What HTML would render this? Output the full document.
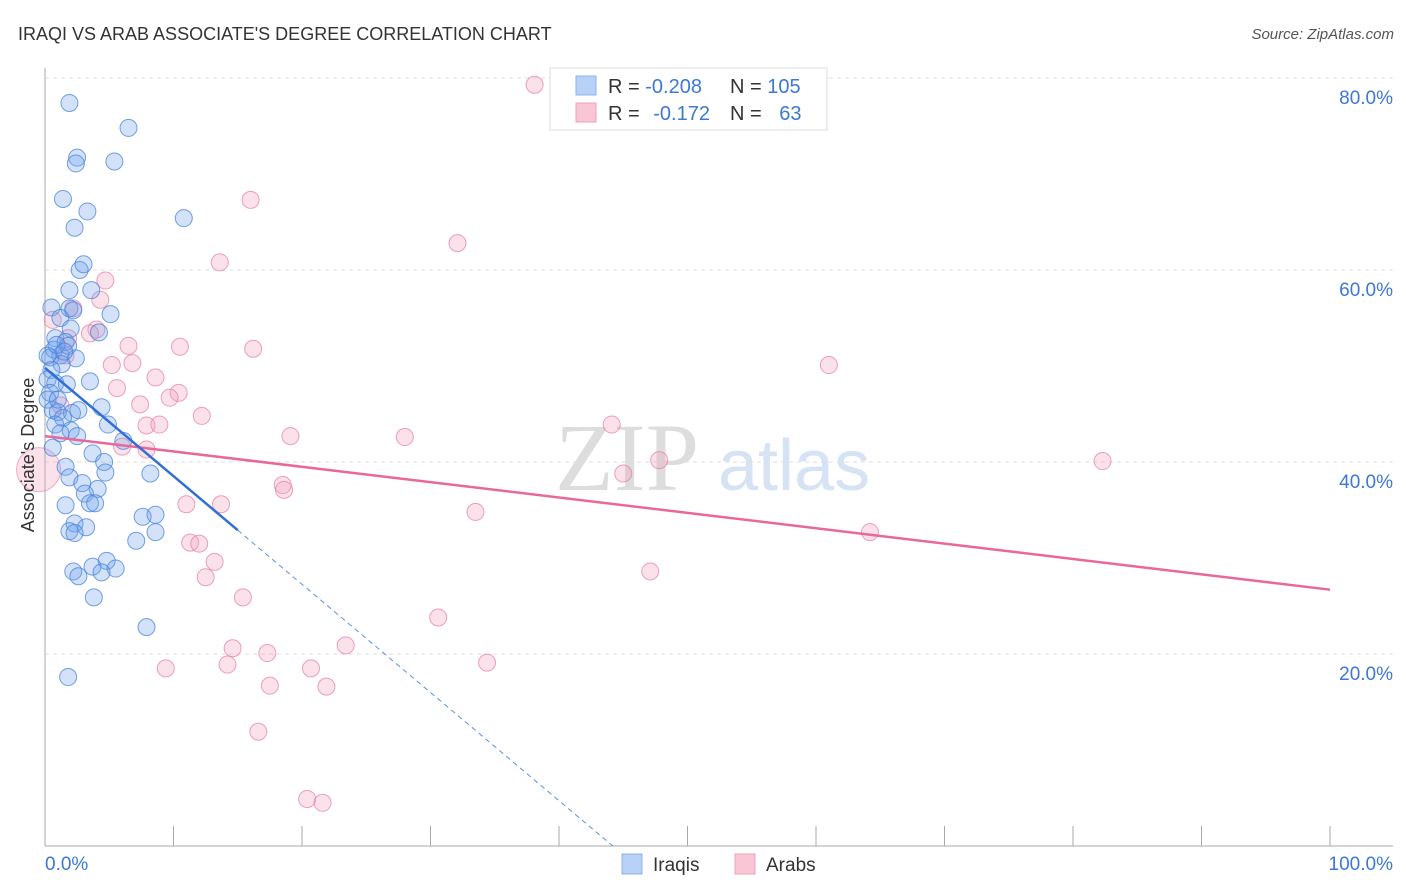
<!DOCTYPE html>
<html><head><meta charset="utf-8"><style>
body{margin:0;background:#fff;font-family:"Liberation Sans",sans-serif}
svg{display:block}
</style></head><body>
<svg id="chart" width="1406" height="892" viewBox="0 0 1406 892" xmlns="http://www.w3.org/2000/svg">
<text x="18" y="40" font-size="18" fill="#333">IRAQI VS ARAB ASSOCIATE'S DEGREE CORRELATION CHART</text>
<text x="1394" y="39" font-size="15" font-style="italic" fill="#555" text-anchor="end">Source: ZipAtlas.com</text>
<g>
<text x="555" y="490" font-family="Liberation Serif,serif" font-size="96" fill="#ddd">ZIP</text>
<text x="718" y="490" font-size="72" fill="#d6e3f5">atlas</text>
</g>
<g id="grid"></g>
<g id="axes"></g>
<g id="marks"></g>
<g id="trends"></g>
<g>
<rect x="550" y="68" width="277" height="62" fill="#fff" stroke="#ddd"/>
<rect x="576" y="76" width="20" height="19" fill="#b7d2f6" stroke="#8fb3e8"/>
<rect x="576" y="103" width="20" height="19" fill="#f9c6d5" stroke="#eda3bb"/>
<text x="608" y="93" font-size="20" fill="#333">R = <tspan fill="#3b78d8">-0.208</tspan></text>
<text x="730" y="93" font-size="20" fill="#333">N = <tspan fill="#3b78d8">105</tspan></text>
<text x="608" y="120" font-size="20" fill="#333">R = <tspan fill="#3b78d8" dx="8">-0.172</tspan></text>
<text x="730" y="120" font-size="20" fill="#333">N = <tspan fill="#3b78d8" dx="12">63</tspan></text>
</g>
<g>
<rect x="622" y="854" width="20" height="20" fill="#b7d2f6" stroke="#8fb3e8"/>
<text x="653" y="871" font-size="19" fill="#333">Iraqis</text>
<rect x="735" y="854" width="20" height="20" fill="#f9c6d5" stroke="#eda3bb"/>
<text x="766" y="871" font-size="19" fill="#333">Arabs</text>
</g>
<text transform="translate(34,455) rotate(-90)" font-size="18" fill="#333" text-anchor="middle">Associate's Degree</text>
</svg>
<script>
const yTicks=[20,40,60,80];
const yTickLabels=["20.0%","40.0%","60.0%","80.0%"];
const xTicks=[10,20,30,40,50,60,70,80,90,100];
const iraqiX=[1.9,6.5,2.5,2.4,5.4,1.4,3.3,2.3,10.8,2.7,3.0,3.6,1.9,0.5,1.9,5.1,1.2,2.2,4.2,2.0,0.8,1.6,0.7,1.2,1.8,0.4,2.4,1.3,0.5,0.2,3.5,0.8,1.7,0.4,0.2,0.6,1.0,2.1,2.6,4.4,1.4,0.8,2.0,4.9,1.2,2.5,6.1,3.7,4.6,1.6,4.7,1.9,8.2,2.9,4.1,3.1,3.5,1.6,3.9,2.3,1.9,3.2,2.3,7.6,8.6,8.6,7.1,4.8,3.7,5.5,2.2,2.6,4.4,3.8,7.9,1.8,0.2,1.0,0.6,0.9,1.5];
const iraqiY=[77.4,74.8,71.7,71.1,71.3,67.4,66.1,64.4,65.4,60.0,60.6,57.9,57.9,56.1,56.0,55.4,55.0,55.8,53.5,53.9,52.9,52.5,51.7,51.1,52.1,50.9,50.8,50.2,49.6,48.6,48.4,48.2,48.1,47.2,46.5,45.4,45.2,45.1,45.4,45.7,44.6,43.9,43.3,43.9,43.0,42.7,42.2,40.9,40.0,39.5,38.9,38.4,38.8,37.8,37.2,36.7,35.7,35.5,35.7,33.6,32.8,33.2,32.6,34.3,34.5,32.7,31.8,29.7,29.1,28.9,28.6,28.1,28.5,25.9,22.8,17.6,51.1,46.5,41.5,52.2,51.5];
const arabX=[38.1,16.0,32.1,13.6,4.7,4.3,2.2,4.0,3.5,1.8,6.5,10.5,16.2,5.2,6.8,8.6,5.6,61.0,10.4,9.7,7.4,12.2,7.9,8.9,19.1,28.0,44.1,6.0,7.9,47.8,82.3,45.0,18.5,18.6,11.0,13.7,33.5,64.2,11.3,12.0,13.2,12.5,47.1,15.4,30.6,14.6,23.4,17.3,34.4,9.4,14.2,20.7,17.5,21.9,16.6,20.4,21.6,1.2,0.6,1.6];
const arabY=[79.3,67.3,62.8,60.8,58.9,56.9,56.0,53.8,53.4,52.9,52.1,52.0,51.8,50.1,50.3,48.8,47.7,50.1,47.2,46.7,46.0,44.8,43.8,43.9,42.7,42.6,43.9,41.6,41.3,40.2,40.1,38.8,37.6,37.1,35.6,35.6,34.8,32.7,31.6,31.5,29.6,28.0,28.6,25.9,23.8,20.6,20.9,20.1,19.1,18.5,18.9,18.5,16.7,16.6,11.9,4.9,4.5,45.9,54.8,51.1];
const arabBigX=[-0.5];
const arabBigY=[39.2];
const iraqiTrend=[49.8,-1.127];  // intercept, slope
const iraqiSolidEnd=15;
const arabTrend=[42.7,-0.16];

const NS="http://www.w3.org/2000/svg";
const X0=45,X1=1330,Y0=846,PY=9.6;
const sx=v=>X0+(X1-X0)*v/100;
const sy=v=>Y0-PY*v;
function mk(tag,attrs,parent){const e=document.createElementNS(NS,tag);for(const k in attrs)e.setAttribute(k,attrs[k]);document.getElementById(parent).appendChild(e);return e;}

yTicks.forEach((t,i)=>{
  const g=mk('line',{x1:X0,x2:1393,y1:sy(t),y2:sy(t),stroke:'#ddd','stroke-dasharray':'4,4'},'grid');
  
  
  const l=mk('text',{x:1393,y:sy(t)+26,'font-size':19,fill:'#3b78d8','text-anchor':'end'},'axes');
  l.textContent=yTickLabels[i];
  
  
});
const ya=mk('line',{x1:X0,x2:X0,y1:68,y2:Y0,stroke:'#aaa'},'axes');


const xa=mk('line',{x1:X0,x2:1393,y1:Y0,y2:Y0,stroke:'#aaa'},'axes');


xTicks.forEach(t=>{
  const k=mk('line',{x1:sx(t),x2:sx(t),y1:Y0-20,y2:Y0,stroke:'#aaa'},'axes');
  
  
});
const xl0=mk('text',{x:45,y:870,'font-size':19,fill:'#3b78d8'},'axes');xl0.textContent='0.0%';


const xl1=mk('text',{x:1393,y:870,'font-size':19,fill:'#3b78d8','text-anchor':'end'},'axes');xl1.textContent='100.0%';



arabBigX.forEach((v,i)=>{
  const c=mk('circle',{cx:sx(v),cy:sy(arabBigY[i]),r:22,fill:'rgba(242,160,185,0.3)',stroke:'rgba(230,130,165,0.6)'},'marks');
  
  
});
arabX.forEach((v,i)=>{
  const c=mk('circle',{cx:sx(v),cy:sy(arabY[i]),r:8.5,fill:'rgba(242,160,185,0.3)',stroke:'rgba(230,130,165,0.75)'},'marks');
  
  
});
iraqiX.forEach((v,i)=>{
  const c=mk('circle',{cx:sx(v),cy:sy(iraqiY[i]),r:8.5,fill:'rgba(110,160,235,0.3)',stroke:'rgba(70,130,220,0.75)'},'marks');
  
  
});
const at=mk('line',{x1:sx(0),y1:sy(arabTrend[0]),x2:sx(100),y2:sy(arabTrend[0]+arabTrend[1]*100),stroke:'#e8689a','stroke-width':2.5},'trends');


const it=mk('line',{x1:sx(0),y1:sy(iraqiTrend[0]),x2:sx(iraqiSolidEnd),y2:sy(iraqiTrend[0]+iraqiTrend[1]*iraqiSolidEnd),stroke:'#2f6fd6','stroke-width':2.5},'trends');


const xEnd=-iraqiTrend[0]/iraqiTrend[1];
const id=mk('line',{x1:sx(iraqiSolidEnd),y1:sy(iraqiTrend[0]+iraqiTrend[1]*iraqiSolidEnd),x2:sx(xEnd),y2:sy(0),stroke:'#5b8fe0','stroke-width':1,'stroke-dasharray':'5,4'},'trends');


</script>
</body></html>
